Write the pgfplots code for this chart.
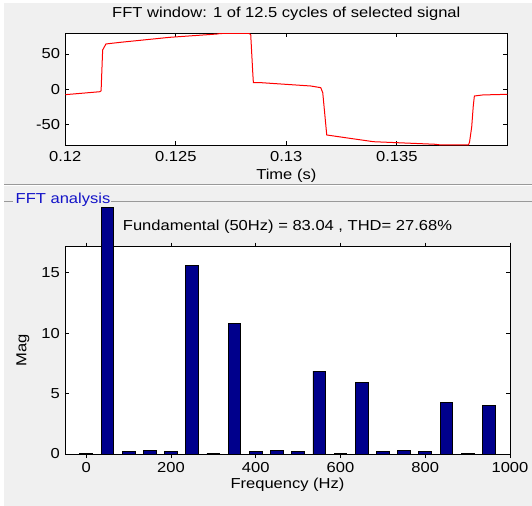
\documentclass[border=0pt]{standalone}
\usepackage{pgfplots}
\pgfplotsset{compat=1.18}
\usepackage{fontspec}
\setmainfont{Liberation Sans}
\newfontfamily\guifont{Liberation Sans}[FakeStretch=1.145]

\definecolor{panel}{RGB}{240,240,240}
\definecolor{barblue}{RGB}{0,0,140}
\definecolor{boxblue}{RGB}{20,20,200}

\pgfplotsset{
  /pgf/number format/.cd, 1000 sep={}, assume math mode=true,
  /pgfplots/.cd,
  mlab/.style={
    scale only axis,
    anchor=south west,
    font=\guifont\fontsize{14.5}{17}\selectfont,
    axis background/.style={fill=white},
    axis line style={black, line width=1bp},
    tick align=inside, xtick pos=both, ytick pos=both,
    major tick length=4bp,
    tick style={black, line width=0.8bp},
    yticklabel style={anchor=east, xshift=-5bp, inner sep=0pt},
    title style={at={(axis description cs:0.5,1)}, anchor=base, yshift=10bp, inner sep=0pt},
    xlabel style={at={(axis description cs:0.5,0)}, anchor=base, yshift=-34.3bp, inner sep=0pt},
  },
}

\begin{document}
\begin{tikzpicture}[font=\guifont\fontsize{14.5}{17}\selectfont]
\path[use as bounding box, fill=white] (0,0) rectangle (532bp,506bp);
\fill[panel] (4bp,0) rectangle (532bp,503bp);
% panel separator
\draw[gray!80, line width=1bp] (4bp,321.5bp) -- (532bp,321.5bp);
\draw[white, line width=1bp] (4bp,320.5bp) -- (532bp,320.5bp);
% group box of the lower panel
\draw[gray!80, line width=0.8bp] (4bp,305bp) -- (13bp,305bp);
\draw[gray!80, line width=0.8bp] (111bp,305bp) -- (532bp,305bp);
\node[text=boxblue, anchor=west, inner sep=0pt] at (15.5bp,306.7bp) {FFT analysis};

% signal window
\begin{axis}[mlab,
  at={(65.3bp,360.7bp)}, width=442bp, height=112bp,
  xmin=0.12, xmax=0.14, ymin=-79.3, ymax=79.3,
  xtick={0.12,0.125,0.13,0.135}, xticklabels={0.12,0.125,0.13,0.135},
  ytick={-50,0,50},
  xticklabel style={anchor=base, yshift=-16.2bp, inner sep=0pt},
  title={FFT window: 1 of 12.5 cycles of selected signal},
  xlabel={Time (s)},
]
\addplot[red, line width=1bp] coordinates {
  (0.12000,-7.6) (0.12157,-3.4) (0.12162,-2.0) (0.12169,55.7) (0.12184,64.2)
  (0.12248,66.5) (0.12472,73.6) (0.12687,78.3) (0.12700,79.0) (0.12830,79.3)
  (0.12839,77.5) (0.12848,24.9) (0.12851,9.3) (0.12890,9.3) (0.13110,4.7)
  (0.13156,2.3) (0.13165,-5.0) (0.13183,-64.7) (0.13394,-74.2) (0.13670,-77.8)
  (0.13700,-78.8) (0.13824,-78.8) (0.13829,-75.0) (0.13839,-53.0) (0.13846,-23.7)
  (0.13851,-9.5) (0.13889,-8.0) (0.14000,-7.1)
};
\end{axis}

% harmonic spectrum
\begin{axis}[mlab,
  at={(65bp,52bp)}, width=445bp, height=207.3bp,
  xmin=-50, xmax=1000, ymin=0, ymax=17.15,
  xtick={0,200,400,600,800,1000}, ytick={0,5,10,15},
  xticklabel style={anchor=base, yshift=-14.5bp, inner sep=0pt},
  ybar, bar width=30, clip=false,
  title={Fundamental (50Hz) = 83.04 , THD= 27.68\%},
  xlabel={Frequency (Hz)},
  ylabel={Mag},
  ylabel style={at={([xshift=-42bp]axis description cs:0,0.5)}, rotate=0, anchor=center},
]
\addplot[fill=barblue, draw=black, line width=0.8bp] coordinates {
  (0,0.08) (50,20.4) (100,0.2) (150,0.28) (200,0.2) (250,15.6) (300,0.06)
  (350,10.8) (400,0.2) (450,0.28) (500,0.2) (550,6.85) (600,0.06) (650,5.91)
  (700,0.2) (750,0.28) (800,0.2) (850,4.28) (900,0.06) (950,4.03)
};
\end{axis}
\end{tikzpicture}
\end{document}
